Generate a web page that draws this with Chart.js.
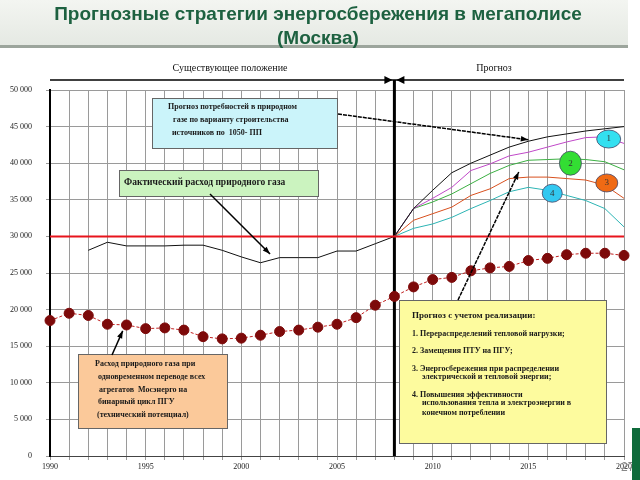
<!DOCTYPE html>
<html>
<head>
<meta charset="utf-8">
<script src="https://cdn.jsdelivr.net/npm/chart.js@4/dist/chart.umd.min.js"></script>
<style>
  body { margin: 0; background: #fff; }
  #wrap { position: relative; width: 640px; height: 480px; overflow: hidden; }
  #head { position: absolute; left: 0; top: 0; width: 628px; height: 45px;
          background: linear-gradient(#f3f5f1, #e5e9e3); border-bottom: 3px solid #9ca59c; }
  #title { position: absolute; left: 0; top: 2px; width: 636px; text-align: center;
           font: bold 19px "Liberation Sans", Arial, sans-serif; color: #1d6140; line-height: 24px; }
  canvas { position: absolute; left: 0; top: 0; }
  #num { position: absolute; left: 621px; top: 460px; font: 12px "Liberation Sans", Arial; color: #888; }
  #bar { position: absolute; left: 632px; top: 428px; width: 8px; height: 52px; background: #0f6b3b; }
</style>
</head>
<body>
<div id="wrap">
  <div id="head"></div>
  <canvas id="gasChart" width="640" height="480"></canvas>
  <div id="title">Прогнозные стратегии энергосбережения в мегаполисе<br>(Москва)</div>
  <div id="num">27</div>
  <div id="bar"></div>
</div>
<script>
// годы и значения
const allYears = [1990, 1991, 1992, 1993, 1994, 1995, 1996, 1997, 1998, 1999, 2000,
  2001, 2002, 2003, 2004, 2005, 2006, 2007, 2008, 2009, 2010,
  2011, 2012, 2013, 2014, 2015, 2016, 2017, 2018, 2019, 2020];
const potentialGas = [18500, 19500, 19200, 18000, 17900, 17400, 17500, 17200, 16300, 16000, 16100,
  16500, 17000, 17200, 17600, 18000, 18900, 20600, 21800, 23100, 24100,
  24400, 25300, 25700, 25900, 26700, 27000, 27500, 27700, 27700, 27400];

const actualYears = [1992, 1993, 1994, 1995, 1996, 1997, 1998, 1999, 2000,
  2001, 2002, 2003, 2004, 2005, 2006, 2007, 2008];
const actualGas = [28100, 29200, 28700, 28700, 28700, 28800, 28800, 28100, 27200,
  26400, 27100, 27100, 27100, 28000, 28000, 29000, 30000];

const forecastYears = [2008, 2009, 2010, 2011, 2012, 2013, 2014, 2015, 2016, 2017, 2018, 2019, 2020];
const demandForecast = [30000, 33800, 36300, 38700, 40000, 41100, 42200, 43000, 43600, 44000, 44400, 44700, 45000];
const strategy1 = [30000, 33800, 35200, 36700, 39000, 39900, 41000, 41500, 42200, 42900, 43500, 43600, 42700];
const strategy2 = [30000, 33800, 34700, 35800, 37200, 38600, 39700, 40400, 40500, 40600, 40500, 40200, 39100];
const strategy3 = [30000, 32200, 33100, 34000, 35600, 36500, 37900, 38100, 38100, 37900, 37700, 37000, 35200];
const strategy4 = [30000, 31100, 31700, 32600, 33800, 34900, 36100, 36700, 36300, 35600, 34900, 33800, 31300];

const limitYears = [1990, 2020];
const limitLevel = [30000, 30000];

const splitYear = 2008;
const yTicks = [0, 5000, 10000, 15000, 20000, 25000, 30000, 35000, 40000, 45000, 50000];

const pts = (xs, ys) => xs.map((x, i) => ({ x: x, y: ys[i] }));

const serif = '"Liberation Serif", "Times New Roman", serif';

// прямоугольник с текстом
const drawBox = (ctx, x0, y0, w, h, fill, lines) => {
  ctx.save();
  ctx.fillStyle = fill;
  ctx.fillRect(x0, y0, w, h);
  ctx.strokeStyle = "#666";
  ctx.lineWidth = 1;
  ctx.strokeRect(x0 + 0.5, y0 + 0.5, w, h);
  ctx.fillStyle = "#1a1a1a";
  ctx.textBaseline = "middle";
  lines.forEach((l) => {
    ctx.font = l.f;
    ctx.fillText(l.t, l.x, l.y);
  });
  ctx.restore();
};

// стрелка
const drawArrow = (ctx, x1, y1, x2, y2, dashed) => {
  ctx.save();
  ctx.strokeStyle = "#000";
  ctx.fillStyle = "#000";
  ctx.lineWidth = 1.5;
  if (dashed) ctx.setLineDash([4, 1]);
  ctx.beginPath();
  ctx.moveTo(x1, y1);
  ctx.lineTo(x2, y2);
  ctx.stroke();
  ctx.setLineDash([]);
  const a = Math.atan2(y2 - y1, x2 - x1);
  ctx.beginPath();
  ctx.moveTo(x2, y2);
  ctx.lineTo(x2 - 8 * Math.cos(a - 0.35), y2 - 8 * Math.sin(a - 0.35));
  ctx.lineTo(x2 - 8 * Math.cos(a + 0.35), y2 - 8 * Math.sin(a + 0.35));
  ctx.closePath();
  ctx.fill();
  ctx.restore();
};

const overlay = {
  id: "overlay",
  beforeDatasetsDraw(chart) {
    const { ctx, scales: { x, y }, chartArea } = chart;
    const sx = x.getPixelForValue(splitYear);

    // шапка "Существующее положение / Прогноз"
    ctx.save();
    ctx.fillStyle = "#111";
    ctx.font = "10px " + serif;
    ctx.textAlign = "center";
    ctx.textBaseline = "middle";
    ctx.fillText("Существующее положение", 230, 68);
    ctx.fillText("Прогноз", 494, 68);
    ctx.strokeStyle = "#000";
    ctx.lineWidth = 1.5;
    ctx.beginPath();
    ctx.moveTo(chartArea.left, 80);
    ctx.lineTo(chartArea.right, 80);
    ctx.stroke();
    ctx.beginPath();
    ctx.moveTo(sx - 2, 80); ctx.lineTo(sx - 10, 76); ctx.lineTo(sx - 10, 84); ctx.closePath();
    ctx.moveTo(sx + 2, 80); ctx.lineTo(sx + 10, 76); ctx.lineTo(sx + 10, 84); ctx.closePath();
    ctx.fillStyle = "#000";
    ctx.fill();

    // граница между фактом и прогнозом
    ctx.lineWidth = 3;
    ctx.beginPath();
    ctx.moveTo(sx, 80);
    ctx.lineTo(sx, chartArea.bottom);
    ctx.stroke();
    ctx.restore();

    const b = "bold 8px " + serif;
    drawBox(ctx, 152, 98, 185, 50, "#cbf4fa", [
      { t: "Прогноз потребностей в природном", x: 168, y: 107, f: b },
      { t: "газе по варианту строительства", x: 173, y: 120, f: b },
      { t: "источников по  1050- ПП", x: 172, y: 133, f: b }
    ]);
    drawBox(ctx, 119, 170, 199, 26, "#cbf3bf", [
      { t: "Фактический расход природного газа", x: 124, y: 183, f: "bold 9.5px " + serif }
    ]);
    drawBox(ctx, 78, 354, 149, 74, "#fbc99a", [
      { t: "Расход природного газа при", x: 95, y: 364, f: b },
      { t: "одновременном переводе всех", x: 98, y: 377, f: b },
      { t: "агрегатов  Мосэнерго на", x: 99, y: 390, f: b },
      { t: "бинарный цикл ПГУ", x: 98, y: 402, f: b },
      { t: "(технический потенциал)", x: 97, y: 415, f: b }
    ]);
    drawBox(ctx, 399, 300, 207, 143, "#fdfb9e", [
      { t: "Прогноз с учетом реализации:", x: 412, y: 316, f: "bold 9px " + serif },
      { t: "1. Перераспределений тепловой нагрузки;", x: 412, y: 334, f: b },
      { t: "2. Замещения ПТУ на ПГУ;", x: 412, y: 351, f: b },
      { t: "3. Энергосбережения при распределении", x: 412, y: 369, f: b },
      { t: "электрической и тепловой энергии;", x: 422, y: 377, f: b },
      { t: "4. Повышения эффективности", x: 412, y: 395, f: b },
      { t: "использования тепла и электроэнергии в", x: 422, y: 403, f: b },
      { t: "конечном потреблении", x: 422, y: 413, f: b }
    ]);
  },
  afterDatasetsDraw(chart) {
    const { ctx, scales: { x, y } } = chart;
    drawArrow(ctx, 338, 114, x.getPixelForValue(2015), y.getPixelForValue(43200), true);
    drawArrow(ctx, 210, 194, x.getPixelForValue(2001.5), y.getPixelForValue(27600), false);
    drawArrow(ctx, 112, 355, x.getPixelForValue(1993.8), y.getPixelForValue(17100), false);
    drawArrow(ctx, 458, 300, x.getPixelForValue(2014.5), y.getPixelForValue(38800), true);

    // номера стратегий
    const marks = [
      { n: "1", yr: 2019.2, v: 43300, rx: 12, ry: 9, c: "#33e0f0" },
      { n: "2", yr: 2017.2, v: 40000, rx: 11, ry: 12, c: "#33dd33" },
      { n: "3", yr: 2019.1, v: 37300, rx: 11, ry: 9, c: "#f06a14" },
      { n: "4", yr: 2016.25, v: 35900, rx: 10, ry: 9, c: "#33c8f0" }
    ];
    ctx.save();
    marks.forEach((m) => {
      const cx = x.getPixelForValue(m.yr);
      const cy = y.getPixelForValue(m.v);
      ctx.beginPath();
      ctx.ellipse(cx, cy, m.rx, m.ry, 0, 0, Math.PI * 2);
      ctx.fillStyle = m.c;
      ctx.fill();
      ctx.strokeStyle = "#446";
      ctx.lineWidth = 0.8;
      ctx.stroke();
      ctx.fillStyle = "#333";
      ctx.font = "9px " + serif;
      ctx.textAlign = "center";
      ctx.textBaseline = "middle";
      ctx.fillText(m.n, cx, cy);
    });
    ctx.restore();
  }
};

const line = (label, data, color, width) => ({
  label: label,
  data: data,
  borderColor: color,
  borderWidth: width,
  pointRadius: 0,
  fill: false
});

const ctx = document.getElementById("gasChart").getContext("2d");
const gasChart = new Chart(ctx, {
  type: "line",
  data: {
    datasets: [
      line("Уровень 30 000", pts(limitYears, limitLevel), "#e8141c", 2),
      line("Фактический расход природного газа", pts(actualYears, actualGas), "#111", 1),
      line("Прогноз потребностей", pts(forecastYears, demandForecast), "#111", 1),
      line("1", pts(forecastYears, strategy1), "#c048c8", 1),
      line("2", pts(forecastYears, strategy2), "#3cb043", 1),
      line("3", pts(forecastYears, strategy3), "#d8501e", 1),
      line("4", pts(forecastYears, strategy4), "#2cb4b4", 1),
      {
        label: "Технический потенциал",
        data: pts(allYears, potentialGas),
        borderColor: "#c02020",
        borderWidth: 1,
        borderDash: [3, 2],
        pointRadius: 5,
        pointBackgroundColor: "#7d0a0a",
        pointBorderColor: "#7d0a0a",
        clip: false,
        fill: false
      }
    ]
  },
  options: {
    responsive: false,
    animation: false,
    devicePixelRatio: 1,
    layout: { padding: { top: 90, right: 16, left: 0, bottom: 0 } },
    elements: { line: { tension: 0 } },
    plugins: { legend: { display: false }, tooltip: { enabled: false } },
    scales: {
      x: {
        type: "linear",
        min: 1990,
        max: 2020,
        afterFit: (s) => { s.height = 24; },
        ticks: {
          stepSize: 1,
          autoSkip: false,
          maxRotation: 0,
          padding: 2,
          color: "#222",
          font: { family: "Liberation Serif", size: 8 },
          callback: (v) => (v % 5 === 0 ? String(v) : "")
        },
        grid: { color: "#9a9a9a", tickLength: 4 },
        border: { color: "#444", width: 1 }
      },
      y: {
        min: 0,
        max: 50000,
        afterFit: (s) => { s.width = 50; },
        afterBuildTicks: (s) => { s.ticks = yTicks.map((v) => ({ value: v })); },
        ticks: {
          padding: 14,
          color: "#222",
          font: { family: "Liberation Serif", size: 8 },
          callback: (v) => String(v).replace(/\B(?=(\d{3})+(?!\d))/g, " ")
        },
        grid: { color: "#9a9a9a", tickLength: 4 },
        border: { color: "#000", width: 2 }
      }
    }
  },
  plugins: [overlay]
});
</script>
</body>
</html>
